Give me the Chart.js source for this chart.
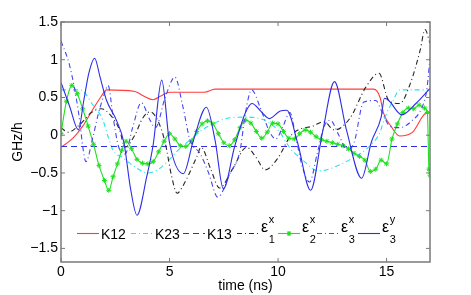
<!DOCTYPE html>
<html><head><meta charset="utf-8">
<script src="https://cdn.jsdelivr.net/npm/chart.js@4.4.1/dist/chart.umd.min.js"></script>
<style>html,body{margin:0;padding:0;background:#fff;}canvas{display:block;}</style>
</head><body>
<canvas id="c" width="471" height="295"></canvas>
<script>
// ---- tick labels ----
const xTicks=[0,5,10,15];
const xTickLabels=['0','5','10','15'];
const yTicks=[-1.5,-1,-0.5,0,0.5,1,1.5];
const yTickLabels=['\u22121.5','\u22121','\u22120.5','0','0.5','1','1.5'];

// ---- legend text (base, superscript, subscript) ----
const legendBase=['K12','K23','K13','\u03b5','\u03b5','\u03b5','\u03b5'];
const legendSup=['','','','x','x','x','y'];
const legendSub=['','','','1','2','3','3'];

// ---- series: K12 ----
const k12T=[0,0.55,1.0,1.4,1.84,2.1,3.4,3.8,4.24,4.6,5.0,6.6,7.1,14.4,14.7,14.85,15.2,15.6,16.2,16.8,17];
const k12V=[-0.16,-0.04,0.12,0.31,0.51,0.6,0.58,0.52,0.47,0.52,0.57,0.57,0.61,0.61,0.5,0.3,0.12,-0.01,0.04,0.29,0.3];
// ---- K23 ----
const k23T=[0,0.9,1.47,1.93,2.17,2.4,2.86,3.4,4.0,4.5,5.0,5.5,6.0,6.5,7.0,7.6,8.55,9.5,10.1,10.55,11.3,11.8,12.2,13.46,14.2,14.7,14.9,15.3,15.6,17];
const k23V=[0.6,0.6,0.4,0.2,-0.02,-0.2,-0.3,-0.42,-0.5,-0.45,-0.32,-0.17,-0.05,0.07,0.15,0.22,0.24,0.18,0.03,-0.17,-0.37,-0.47,-0.46,-0.3,-0.15,0.04,0.22,0.46,0.6,0.6];
// ---- K13 ----
const k13T=[0,17];
const k13V=[-0.15,-0.15];
// ---- eps1 x ----
const e1xT=[0,0.32,0.9,1.4,1.86,2.3,2.7,2.95,3.4,3.75,4.1,4.45,4.8,5.1,5.35,5.6,6.25,6.45,6.9,7.3,7.9,8.55,9.0,9.4,10.0,10.55,11.0,11.6,12.1,12.6,13.3,14.05,14.65,15.1,15.6,16.1,16.55,16.77,17];
const e1xV=[0.1,0.04,0.15,0.3,0.35,0.26,0.07,-0.16,0.0,0.22,0.31,0.2,-0.1,-0.55,-0.77,-0.68,-0.29,-0.16,-0.45,-0.7,-0.45,-0.16,-0.3,-0.46,-0.3,-0.02,0.08,0.12,0.18,0.07,0.22,0.64,0.82,0.46,0.42,0.69,1.13,1.4,1.22];
// ---- eps2 x ----
const e2xT=[0,0.25,0.5,0.75,1,1.25,1.5,1.75,2,2.2,2.4,2.6,2.8,3,3.25,3.5,3.75,4,4.25,4.5,4.75,5,5.25,5.5,5.75,6,6.25,6.5,6.75,7,7.25,7.5,7.75,8,8.25,8.5,8.75,9,9.25,9.5,9.75,10,10.25,10.5,10.75,11,11.25,11.5,11.75,12,12.25,12.5,12.75,13,13.25,13.5,13.75,14,14.25,14.5,14.75,15,15.25,15.5,15.75,16,16.25,16.5,16.75,16.88,16.95,17];
const e2xV=[0.02,0.45,0.66,0.55,0.35,0.12,-0.12,-0.4,-0.6,-0.73,-0.55,-0.38,-0.2,-0.08,-0.18,-0.32,-0.37,-0.38,-0.35,-0.22,-0.08,0.02,-0.05,-0.14,-0.15,-0.08,0.05,0.15,0.19,0.15,0.02,-0.1,-0.14,-0.06,0.1,0.2,0.16,0.05,-0.04,0.04,0.16,0.15,0.05,-0.04,-0.05,0.02,0.07,0.04,-0.02,-0.06,-0.08,-0.1,-0.12,-0.14,-0.18,-0.24,-0.28,-0.33,-0.48,-0.45,-0.33,-0.38,-0.05,0.15,0.3,0.36,0.35,0.4,0.36,0.3,-0.45,-0.53];
// ---- eps3 x ----
const e3xT=[0,0.4,0.72,0.88,1.0,1.15,1.45,1.7,2.0,2.17,2.4,2.65,2.95,3.3,3.7,4.1,4.35,4.8,5.25,5.6,5.95,6.4,6.8,7.22,7.8,8.25,8.5,8.78,9.2,9.6,9.9,10.2,10.55,10.8,11.1,11.45,11.8,12.1,12.4,12.8,13.2,13.5,13.95,14.5,14.8,15.15,15.6,16.2,16.6,16.85,17];
const e3xV=[1.25,0.92,0.46,0.15,-0.15,-0.35,-0.05,0.26,0.55,0.66,0.24,-0.15,-0.25,0.1,0.43,0.2,0.1,0.5,0.77,0.4,-0.07,-0.24,-0.5,-0.82,-0.5,-0.2,0.3,0.6,0.35,0.05,-0.05,0.1,0.3,0.0,-0.4,-0.62,-0.25,0.1,0.2,0.0,-0.2,-0.1,0.44,0.46,0.3,0.12,0.1,0.2,0.35,0.6,1.02];
// ---- eps3 y ----
const e3yT=[0,0.4,0.8,1.05,1.28,1.55,1.8,2.1,2.55,2.9,3.2,3.5,3.95,4.25,4.64,5.0,5.64,6.1,6.7,7.1,7.48,8.0,8.5,8.8,9.2,9.6,10.1,10.4,10.9,11.5,12.05,12.6,13.15,13.85,14.3,14.75,14.9,15.1,15.7,16.35,17];
const e3yV=[0.7,0.38,0.07,0.46,0.82,1.02,0.77,0.46,0.2,-0.1,-0.7,-1.06,-0.55,-0.12,0.73,-0.1,-0.51,-0.07,0.37,-0.07,-0.71,-0.15,0.3,0.42,0.32,0.22,0.32,0.33,-0.1,-0.73,0.04,0.71,0.07,-0.57,-0.09,0.24,0.49,0.46,0.27,0.42,0.62];

const FONT='"Liberation Sans", Arial, Helvetica, sans-serif';
const pts=(T,V)=>T.map((t,i)=>({x:t,y:V[i]}));
const DD=[5,3,1,3];

const specs=[
 {T:k12T,V:k12V,color:'rgb(255,60,60)',dash:[]},
 {T:k23T,V:k23V,color:'rgb(40,225,235)',dash:DD},
 {T:k13T,V:k13V,color:'rgb(45,45,235)',dash:[6,4]},
 {T:e1xT,V:e1xV,color:'rgb(40,40,40)',dash:DD},
 {T:e2xT,V:e2xV,color:'rgb(30,225,30)',dash:[],marker:true},
 {T:e3xT,V:e3xV,color:'rgb(70,70,240)',dash:DD},
 {T:e3yT,V:e3yV,color:'rgb(45,45,230)',dash:[]}
];

const datasets=specs.map((s,i)=>({
  data:pts(s.T,s.V),
  borderColor:s.color,
  backgroundColor:s.color,
  borderWidth:1.1,
  borderDash:s.dash,
  cubicInterpolationMode:'monotone',
  pointRadius:s.marker?2.5:0,
  pointStyle:'star',
  pointBorderColor:s.color,
  pointBorderWidth:1,
  fill:false,
  order:specs.length-1-i
}));

const frame={
  id:'frame',
  afterDatasetsDraw(chart){
    const {ctx,chartArea:a,scales}=chart;
    ctx.save();
    ctx.strokeStyle='#7a7a7a';
    ctx.lineWidth=1.5;
    ctx.setLineDash([]);
    ctx.strokeRect(a.left,a.top,a.right-a.left,a.bottom-a.top);
    ctx.lineWidth=1;
    const L=4;
    ctx.beginPath();
    xTicks.forEach(v=>{const p=scales.x.getPixelForValue(v);
      ctx.moveTo(p,a.bottom);ctx.lineTo(p,a.bottom-L);
      ctx.moveTo(p,a.top);ctx.lineTo(p,a.top+L);});
    yTicks.forEach(v=>{const p=scales.y.getPixelForValue(v);
      ctx.moveTo(a.left,p);ctx.lineTo(a.left+L,p);
      ctx.moveTo(a.right,p);ctx.lineTo(a.right-L,p);});
    ctx.stroke();
    ctx.restore();
  }
};

const legendStarts=[77,131,183,237,278,317,358];
const legendPlug={
  id:'lg',
  afterDraw(chart){
    const ctx=chart.ctx;
    const y=233.5;
    ctx.save();
    specs.forEach((s,i)=>{
      const x0=legendStarts[i], x1=x0+22;
      ctx.strokeStyle=s.color;ctx.lineWidth=1.1;ctx.setLineDash(s.dash);
      ctx.beginPath();ctx.moveTo(x0,y);ctx.lineTo(x1,y);ctx.stroke();
      ctx.setLineDash([]);
      if(s.marker){
        Chart.helpers.drawPoint(ctx,{pointStyle:'star',radius:2.5,borderWidth:1},(x0+x1)/2,y);
      }
      ctx.fillStyle='#000';
      ctx.textAlign='left';
      ctx.textBaseline='alphabetic';
      const tx=x1+2;
      if(!legendSup[i]){
        ctx.font='14px '+FONT;
        ctx.fillText(legendBase[i],tx,239);
      } else {
        ctx.font='16px '+FONT;
        ctx.fillText(legendBase[i],tx,232);
        const w=ctx.measureText(legendBase[i]).width;
        ctx.font='11px '+FONT;
        ctx.fillText(legendSup[i],tx+w+0.5,223);
        ctx.fillText(legendSub[i],tx+w+0.5,243);
      }
    });
    ctx.restore();
  }
};

new Chart(document.getElementById('c'),{
  type:'line',
  data:{datasets},
  options:{
    responsive:false,animation:false,
    layout:{padding:{top:22,right:41,left:0,bottom:0}},
    plugins:{legend:{display:false},tooltip:{enabled:false}},
    scales:{
      x:{type:'linear',min:0,max:17,
        grid:{display:false,drawTicks:false},border:{display:false},
        afterBuildTicks:s=>{s.ticks=xTicks.map(v=>({value:v}));},
        afterFit:s=>{s.height=33;},
        ticks:{padding:2,autoSkip:false,maxRotation:0,color:'#000',font:{family:FONT,size:14},
          callback:v=>xTickLabels[xTicks.indexOf(v)]},
        title:{display:true,text:'time (ns)',color:'#000',font:{family:FONT,size:14},padding:{top:0,bottom:0}}
      },
      y:{type:'linear',min:-1.68,max:1.5,
        grid:{display:false,drawTicks:false},border:{display:false},
        afterBuildTicks:s=>{s.ticks=yTicks.map(v=>({value:v}));},
        afterFit:s=>{s.width=61;},
        ticks:{padding:3,autoSkip:false,color:'#000',font:{family:FONT,size:14},
          callback:v=>yTickLabels[yTicks.indexOf(v)]},
        title:{display:true,text:'GHz/h',color:'#000',font:{family:FONT,size:14},padding:{top:10,bottom:0}}
      }
    }
  },
  plugins:[frame,legendPlug]
});
</script>
</body></html>
